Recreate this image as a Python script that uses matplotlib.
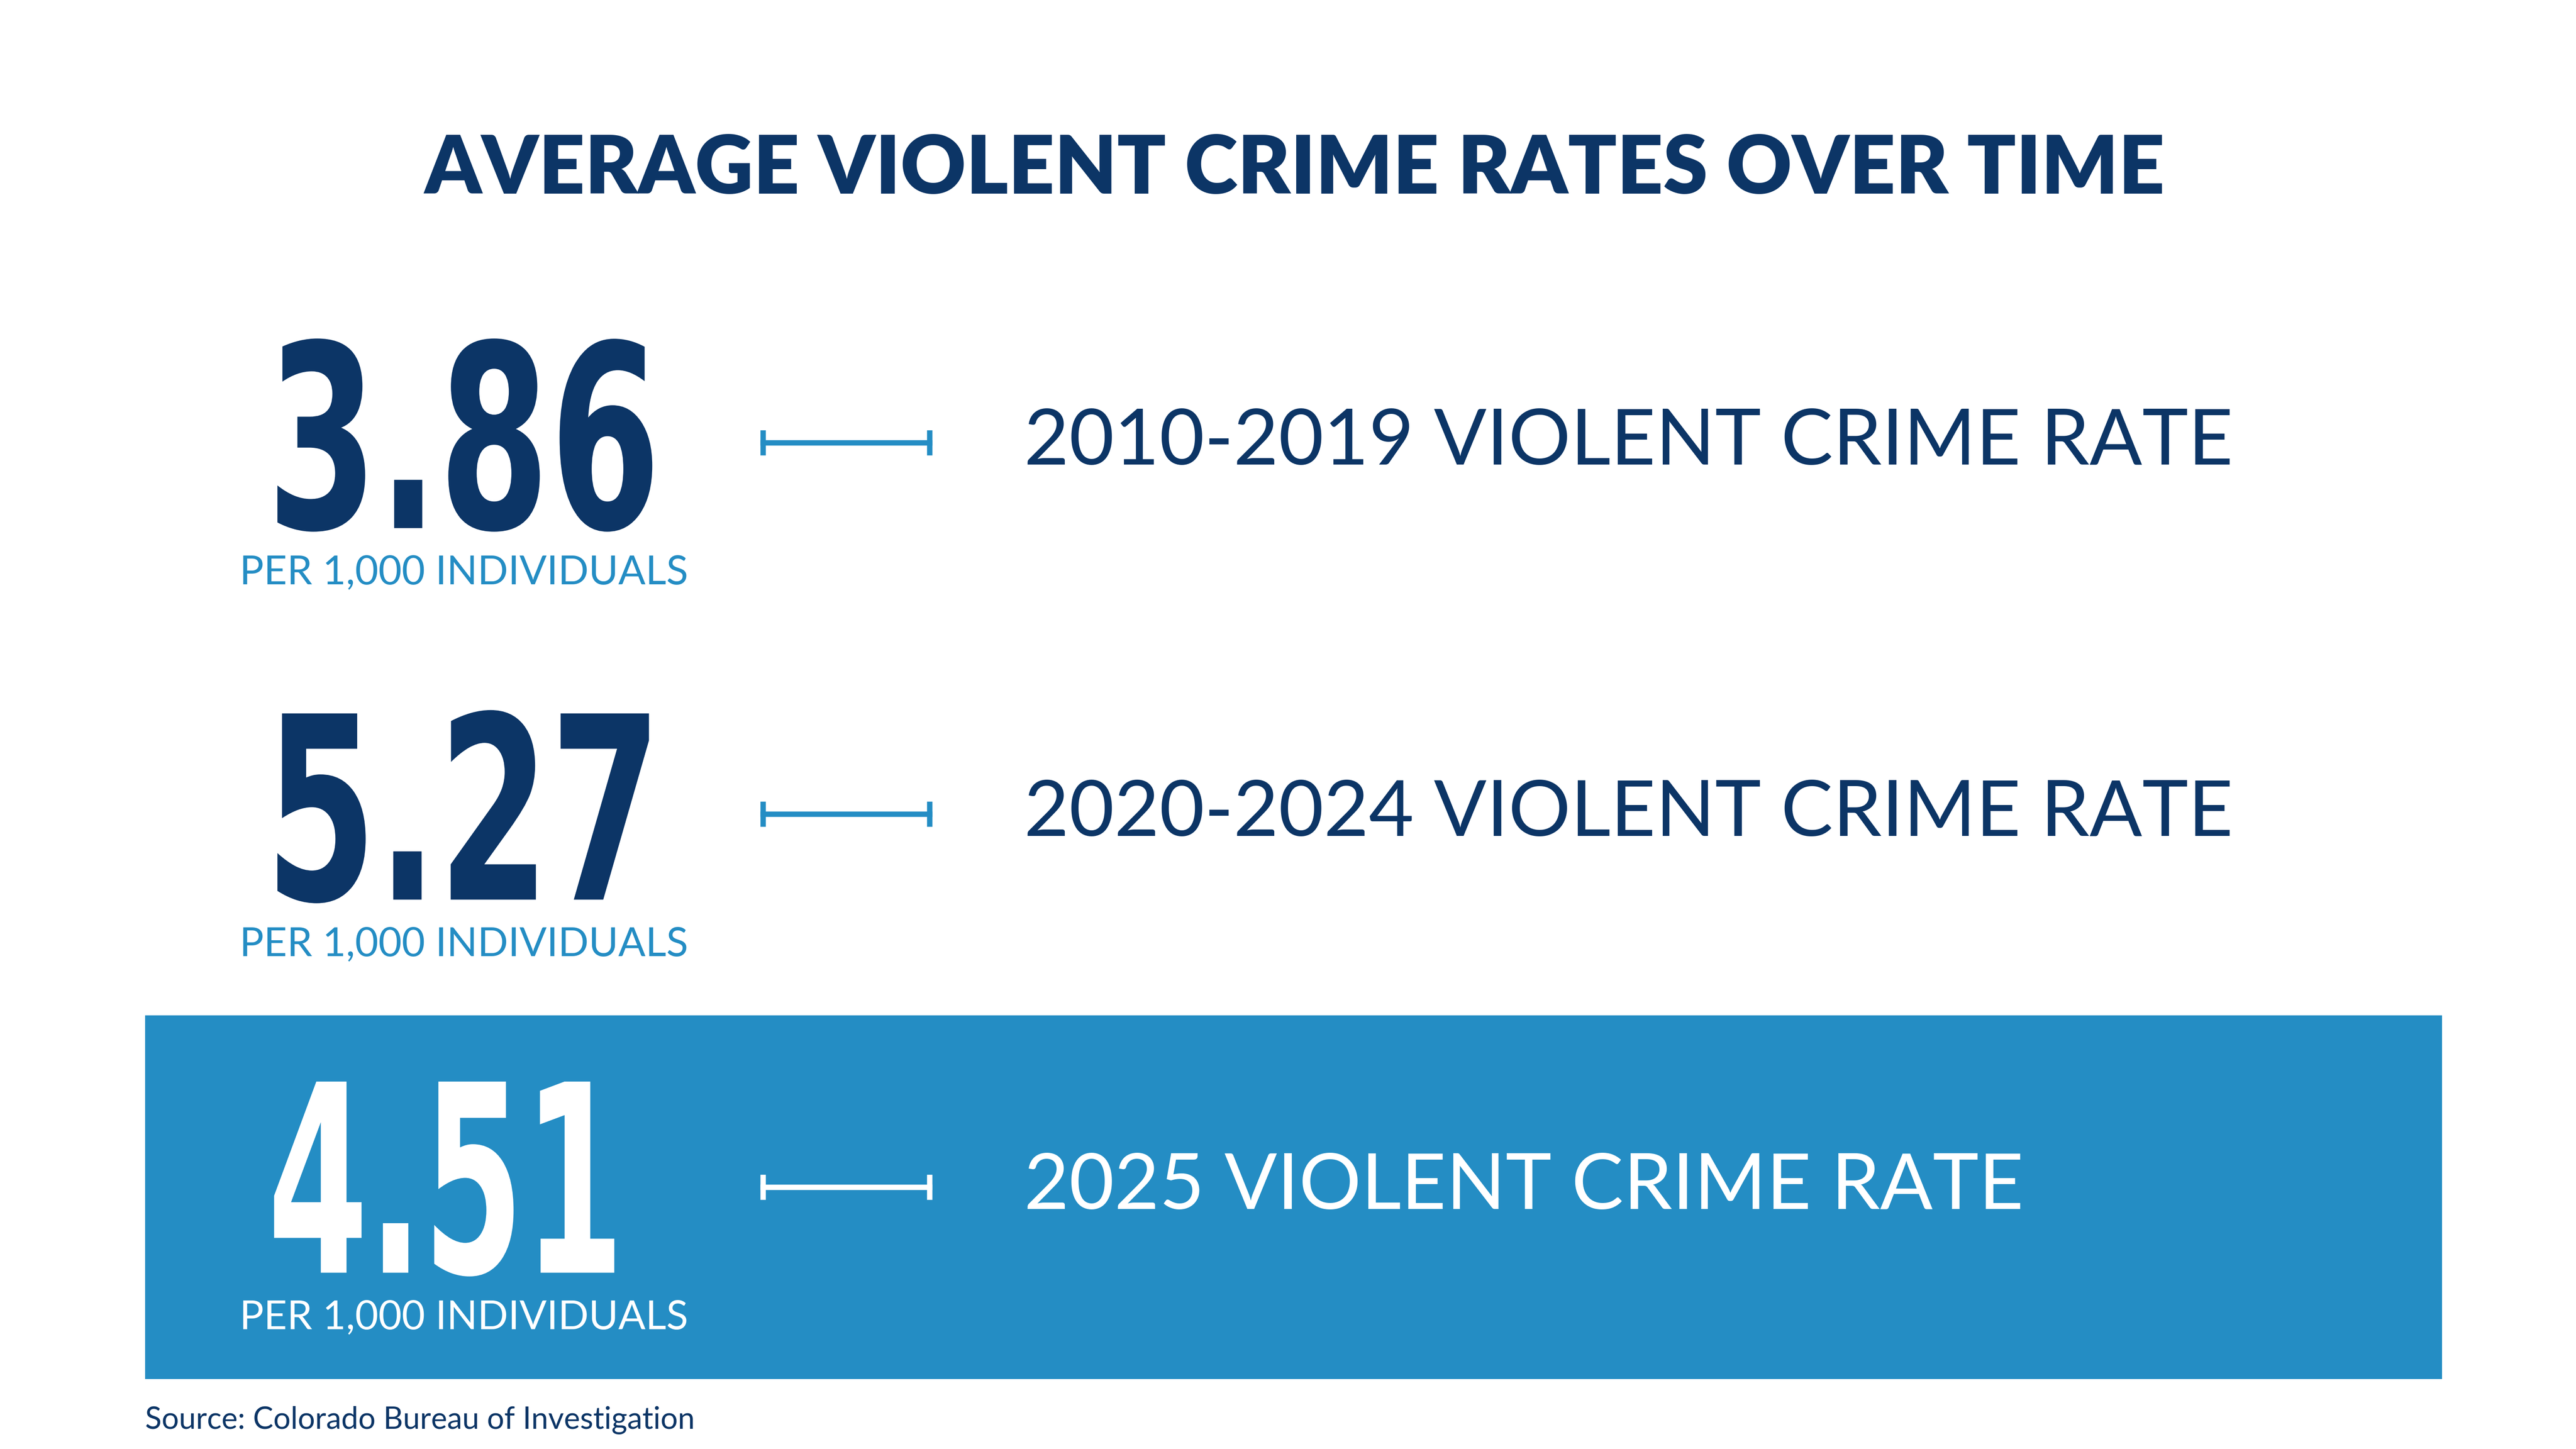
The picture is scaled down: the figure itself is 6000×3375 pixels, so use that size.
import matplotlib.pyplot as plt
from matplotlib.patches import Rectangle, PathPatch
from matplotlib.lines import Line2D
from matplotlib.textpath import TextPath
from matplotlib.font_manager import FontProperties
from matplotlib.transforms import Affine2D

title = "AVERAGE VIOLENT CRIME RATES OVER TIME"
rates = ["3.86", "5.27", "4.51"]
labels = ["2010-2019 VIOLENT CRIME RATE", "2020-2024 VIOLENT CRIME RATE", "2025 VIOLENT CRIME RATE"]
unit = "PER 1,000 INDIVIDUALS"
source = "Source: Colorado Bureau of Investigation"

NAVY = "#0c3566"
BLUE = "#248dc4"
W, H = 1560, 877.5

fig = plt.figure(figsize=(20, 11.25), dpi=300)
fig.patch.set_facecolor("white")
# one axes over the whole figure, in reference pixel units (y grows upward)
ax = fig.add_axes([0, 0, 1, 1])
ax.set_xlim(0, W)
ax.set_ylim(0, H)
ax.axis("off")

def Y(y): return H - y

ax.text(784, Y(103), title, ha="center", va="center", fontsize=45,
        fontweight="heavy", family=["Lato", "DejaVu Sans"], color=NAVY)

ax.add_patch(Rectangle((88, Y(835)), 1479 - 88, 835 - 615, color=BLUE, lw=0))

rows = [268, 493, 719]
# boxes of the big condensed numbers: left, right, top, bottom
num_boxes = [(168, 395, 205, 322), (168, 393, 430, 547), (166, 372, 655, 773)]
fp = FontProperties(family="DejaVu Sans", weight="bold")
for i, (r, lab, yc, box) in enumerate(zip(rates, labels, rows, num_boxes)):
    hl = i == 2
    c_num = "white" if hl else NAVY
    c_unit = "white" if hl else BLUE
    tp = TextPath((0, 0), r, size=100, prop=fp)
    ext = tp.get_extents()
    x0, x1, yt, yb = box
    sx = (x1 - x0) / ext.width
    sy = (yb - yt) / ext.height
    tr = Affine2D().translate(-ext.x0, -ext.y0).scale(sx, sy).translate(x0, Y(yb))
    ax.add_patch(PathPatch(tr.transform_path(tp), color=c_num, lw=0))
    ax.text(281, Y(yc + 79), unit, ha="center", va="center", fontsize=22.5,
            family=["Lato", "DejaVu Sans"], color=c_unit)
    ax.plot([462, 563], [Y(yc), Y(yc)], color=c_unit, lw=3)
    for xe in (462, 563):
        ax.plot([xe, xe], [Y(yc - 6), Y(yc + 6)], color=c_unit, lw=3)
    ax.text(620, Y(yc), lab, ha="left", va="center", fontsize=43.5,
            family=["Lato", "DejaVu Sans"], color=c_num)

ax.text(88, Y(860), source, ha="left", va="center", fontsize=17,
        family=["Lato", "DejaVu Sans"], color=NAVY)

fig.savefig("out.png", dpi=300)
